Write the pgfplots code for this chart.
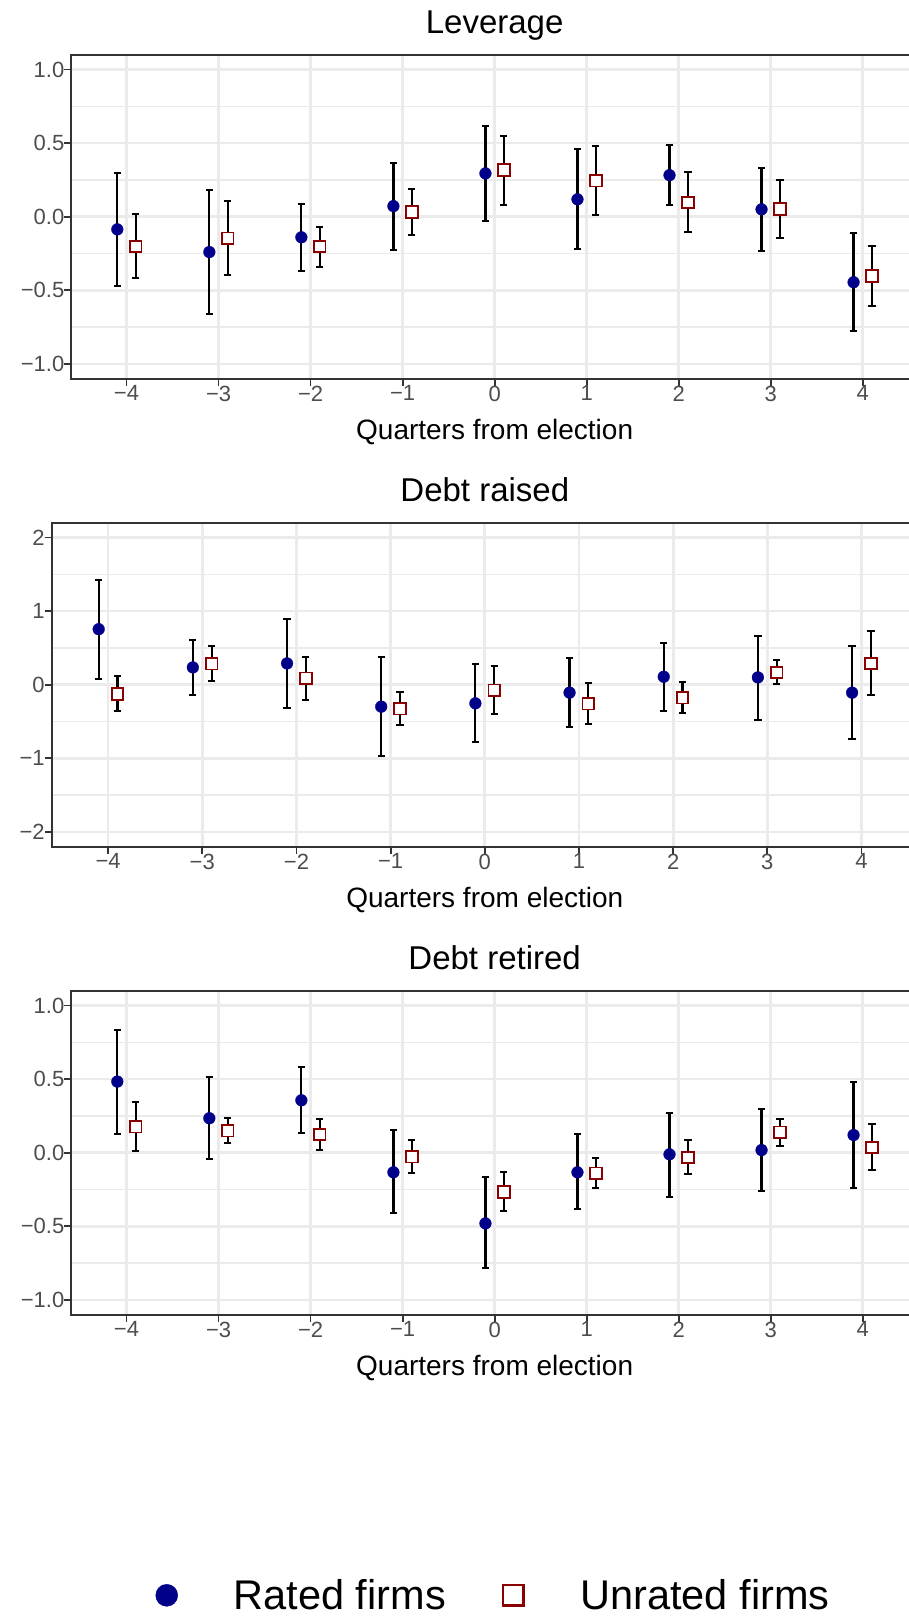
\documentclass[border=0pt]{standalone}
\usepackage{pgfplots}
\pgfplotsset{compat=1.18}
\usepackage{pgfplotstable}
\usepackage{fontspec}
\setmainfont{Liberation Sans}
\definecolor{rated}{RGB}{0,0,139}
\definecolor{unrated}{RGB}{139,0,0}
\definecolor{gridc}{RGB}{235,235,235}
\definecolor{borderc}{RGB}{51,51,51}
\definecolor{tickc}{RGB}{77,77,77}

% Leverage
\pgfplotstableread{
x y lo hi
-4.1 -0.086 -0.472 0.296
-3.1 -0.240 -0.660 0.179
-2.1 -0.140 -0.368 0.088
-1.1 0.072 -0.224 0.366
-0.1 0.294 -0.029 0.615
0.9 0.118 -0.219 0.461
1.9 0.282 0.081 0.486
2.9 0.050 -0.231 0.332
3.9 -0.445 -0.775 -0.108
}\levR
\pgfplotstableread{
x y lo hi
-3.9 -0.203 -0.416 0.016
-2.9 -0.147 -0.398 0.106
-1.9 -0.203 -0.339 -0.072
-0.9 0.032 -0.124 0.188
0.1 0.316 0.081 0.549
1.1 0.244 0.009 0.479
2.1 0.097 -0.102 0.301
3.1 0.052 -0.147 0.249
4.1 -0.402 -0.608 -0.199
}\levU
% Debt raised
\pgfplotstableread{
x y lo hi
-4.1 0.754 0.077 1.427
-3.1 0.235 -0.140 0.609
-2.1 0.289 -0.316 0.894
-1.1 -0.298 -0.962 0.370
-0.1 -0.253 -0.777 0.275
0.9 -0.108 -0.569 0.357
1.9 0.108 -0.361 0.569
2.9 0.099 -0.474 0.668
3.9 -0.108 -0.740 0.528
}\raiR
\pgfplotstableread{
x y lo hi
-3.9 -0.126 -0.361 0.117
-2.9 0.284 0.045 0.524
-1.9 0.086 -0.203 0.375
-0.9 -0.325 -0.546 -0.104
0.1 -0.077 -0.393 0.253
1.1 -0.257 -0.537 0.027
2.1 -0.176 -0.384 0.032
3.1 0.167 0.009 0.330
4.1 0.289 -0.144 0.727
}\raiU
% Debt retired
\pgfplotstableread{
x y lo hi
-4.1 0.483 0.129 0.834
-3.1 0.234 -0.045 0.512
-2.1 0.356 0.131 0.584
-1.1 -0.133 -0.410 0.151
-0.1 -0.480 -0.785 -0.167
0.9 -0.133 -0.383 0.124
1.9 -0.011 -0.298 0.273
2.9 0.018 -0.257 0.300
3.9 0.120 -0.239 0.478
}\retR
\pgfplotstableread{
x y lo hi
-3.9 0.176 0.009 0.347
-2.9 0.149 0.065 0.234
-1.9 0.124 0.020 0.228
-0.9 -0.027 -0.140 0.083
0.1 -0.268 -0.397 -0.133
1.1 -0.140 -0.241 -0.036
2.1 -0.032 -0.147 0.086
3.1 0.138 0.047 0.230
4.1 0.036 -0.120 0.192
}\retU

\pgfplotsset{
  every axis title/.style={at={(0.5,1)}, anchor=base, yshift=21bp, inner sep=0pt,
    font=\fontsize{33bp}{40bp}\selectfont},
  every axis x label/.style={at={(0.5,0)}, anchor=base, yshift=-60.3bp, inner sep=0pt,
    font=\fontsize{28bp}{34bp}\selectfont},
  panel/.style={
    scale only axis, height=324bp,
    xmin=-4.6, xmax=4.6,
    xtick={-4,...,4}, xticklabels={−4,−3,−2,−1,0,1,2,3,4},
    xtick pos=bottom, ytick pos=left,
    axis line style={borderc, line width=1.8bp},
    tick style={borderc, line width=1.8bp},
    major tick length=6.8bp, minor tick length=0pt, tick align=outside,
    xmajorgrids, ymajorgrids, yminorgrids,
    major grid style={gridc, line width=2.7bp},
    minor grid style={gridc, line width=1.35bp},
    ticklabel style={font=\fontsize{22bp}{26bp}\selectfont, text=tickc, inner sep=0pt},
    xlabel={Quarters from election},
    clip=false,
  },
  rplot/.style={only marks, mark=*, mark size=5.9bp, color=rated, forget plot,
    mark options={fill=rated, draw=rated, line width=0.3bp},
    error bars/.cd, y dir=both, y explicit,
    error bar style={black, line width=2.2bp},
    error mark options={black, rotate=90, mark size=3.6bp, line width=2bp}},
  uplot/.style={only marks, mark=square*, mark size=5.8bp, color=unrated, forget plot,
    mark options={fill=white, draw=unrated, line width=1.8bp},
    error bars/.cd, y dir=both, y explicit,
    error bar style={black, line width=2.2bp},
    error mark options={black, rotate=90, mark size=3.6bp, line width=2bp}},
}

\begin{document}
\begin{tikzpicture}
\path[use as bounding box] (0bp,0bp) rectangle (909bp,-1616bp);

\begin{axis}[panel, width=846.7bp, at={(71.3bp,-54.7bp)}, anchor=north west,
  ymin=-1.1, ymax=1.1, ytick={-1,-0.5,0,0.5,1}, yticklabels={−1.0,−0.5,0.0,0.5,1.0},
  minor ytick={-0.75,-0.25,0.25,0.75}, title={Leverage}]
\addplot[rplot] table[x=x, y=y, y error plus expr=\thisrow{hi}-\thisrow{y}, y error minus expr=\thisrow{y}-\thisrow{lo}] {\levR};
\addplot[uplot] table[x=x, y=y, y error plus expr=\thisrow{hi}-\thisrow{y}, y error minus expr=\thisrow{y}-\thisrow{lo}] {\levU};
\end{axis}

\begin{axis}[panel, width=866.4bp, at={(51.6bp,-522.7bp)}, anchor=north west,
  ymin=-2.2, ymax=2.2, ytick={-2,-1,0,1,2}, yticklabels={−2,−1,0,1,2},
  minor ytick={-1.5,-0.5,0.5,1.5}, title={Debt raised}]
\addplot[rplot] table[x=x, y=y, y error plus expr=\thisrow{hi}-\thisrow{y}, y error minus expr=\thisrow{y}-\thisrow{lo}] {\raiR};
\addplot[uplot] table[x=x, y=y, y error plus expr=\thisrow{hi}-\thisrow{y}, y error minus expr=\thisrow{y}-\thisrow{lo}] {\raiU};
\end{axis}

\begin{axis}[panel, width=846.7bp, at={(71.3bp,-990.7bp)}, anchor=north west,
  ymin=-1.1, ymax=1.1, ytick={-1,-0.5,0,0.5,1}, yticklabels={−1.0,−0.5,0.0,0.5,1.0},
  minor ytick={-0.75,-0.25,0.25,0.75}, title={Debt retired},
  legend style={at={(0.497,-0.866)}, anchor=center, draw=none, fill=none,
    legend columns=2, font=\fontsize{41.5bp}{48bp}\selectfont, inner sep=0pt,
    nodes={inner sep=0pt}, /tikz/every even column/.append style={column sep=55.5bp}},
  legend image code/.code={\path[draw=none,fill=none] (-12bp,-0.1bp) rectangle (67bp,0.1bp); \draw[#1] plot coordinates {(0bp,0bp)};}]
\addplot[rplot] table[x=x, y=y, y error plus expr=\thisrow{hi}-\thisrow{y}, y error minus expr=\thisrow{y}-\thisrow{lo}] {\retR};
\addplot[uplot] table[x=x, y=y, y error plus expr=\thisrow{hi}-\thisrow{y}, y error minus expr=\thisrow{y}-\thisrow{lo}] {\retU};
\addlegendimage{only marks, mark=*, mark size=11bp, color=rated, mark options={fill=rated, draw=rated}}
\addlegendentry{Rated firms}
\addlegendimage{only marks, mark=square*, mark size=10.3bp, color=unrated, mark options={fill=white, draw=unrated, line width=2.6bp}}
\addlegendentry{Unrated firms}
\end{axis}
\end{tikzpicture}
\end{document}
